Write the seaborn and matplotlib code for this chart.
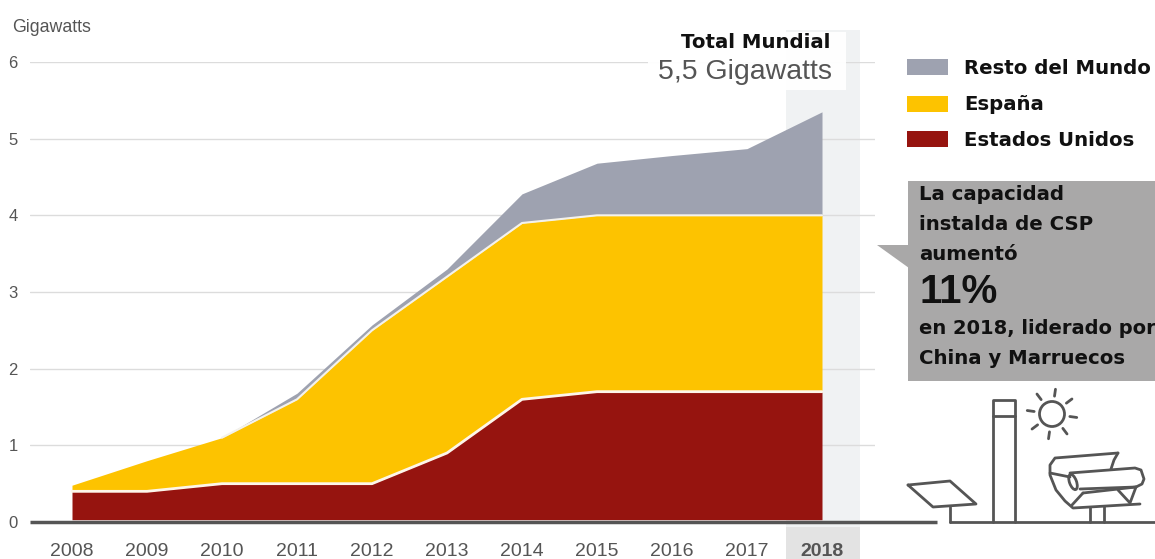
import matplotlib
matplotlib.use("Agg")
import matplotlib.pyplot as plt
import numpy as np
import pandas as pd
import seaborn as sns
from matplotlib.patches import Rectangle, Polygon, Circle, Ellipse

years = [2008, 2009, 2010, 2011, 2012, 2013, 2014, 2015, 2016, 2017, 2018]
estados_unidos = [0.40, 0.40, 0.50, 0.50, 0.50, 0.90, 1.60, 1.70, 1.70, 1.70, 1.70]
espana = [0.08, 0.40, 0.60, 1.10, 2.00, 2.30, 2.30, 2.30, 2.30, 2.30, 2.30]
resto = [0.00, 0.00, 0.00, 0.08, 0.07, 0.10, 0.38, 0.68, 0.78, 0.87, 1.35]
series_names = ["Resto del Mundo", "España", "Estados Unidos"]
series_colors = ["#9ea2b0", "#fdc300", "#96140f"]
y_ticks = [0, 1, 2, 3, 4, 5, 6]

W, H = 1155, 559
sns.set_theme(style="white")
plt.rcParams["font.family"] = ["Liberation Sans", "DejaVu Sans"]
BOLD = ["DejaVu Sans"]
BOLD_SIZE = 14.2

fig = plt.figure(figsize=(W / 100, H / 100), dpi=100)
fig.patch.set_facecolor("white")

bg = fig.add_axes([0, 0, 1, 1], zorder=0)
bg.set_xlim(0, W); bg.set_ylim(H, 0); bg.axis("off")
bg.add_patch(Rectangle((786, 30), 74, 497, fc="#f0f2f3", ec="none"))
bg.add_patch(Rectangle((786, 527), 74, 32, fc="#e3e3e3", ec="none"))

left, right, y0, y6 = 30, 875, 522, 62
ax = fig.add_axes([left / W, 1 - y0 / H, (right - left) / W, (y0 - y6) / H], zorder=1)
ax.patch.set_alpha(0)
ax.set_xlim(2008 + (left - 72) / 75, 2008 + (right - 72) / 75)
ax.set_ylim(0, 6)

df = pd.DataFrame({"year": years, "us": estados_unidos, "es": espana, "rest": resto})
df["top_us"] = df["us"]
df["top_es"] = df["us"] + df["es"]
df["top_rest"] = df["top_es"] + df["rest"]

ax.fill_between(df["year"], df["top_es"], df["top_rest"], color=series_colors[0], lw=0, zorder=2)
ax.fill_between(df["year"], df["top_us"], df["top_es"], color=series_colors[1], lw=0, zorder=2)
ax.fill_between(df["year"], 0.03, df["top_us"], color=series_colors[2], lw=0, zorder=2)
sns.lineplot(data=df, x="year", y="top_us", color="#fdf6ea", lw=2, ax=ax, zorder=3)
sns.lineplot(data=df[df["year"] >= 2010], x="year", y="top_es", color="#f4f2ec", lw=1.5, ax=ax, zorder=3)
ax.set_xlabel(""); ax.set_ylabel("")

ax.set_yticks(y_ticks)
ax.set_yticklabels([str(t) for t in y_ticks], color="#555555", fontsize=12)
ax.set_xticks(years)
ax.set_xticklabels(years, color="#555555", fontsize=14)
ax.get_xticklabels()[-1].set_fontweight("bold")
ax.tick_params(axis="y", length=0, pad=9)
ax.tick_params(axis="x", length=0, pad=15)
ax.yaxis.grid(True, color="#dcdcdc", lw=1)
ax.xaxis.grid(False)
ax.set_axisbelow(True)
for s in ax.spines.values():
    s.set_visible(False)

ov = fig.add_axes([0, 0, 1, 1], zorder=2)
ov.set_xlim(0, W); ov.set_ylim(H, 0); ov.axis("off"); ov.patch.set_alpha(0)

ov.text(12, 28, "Gigawatts", fontsize=12.8, color="#555555", va="center", ha="left")
ov.add_patch(Rectangle((648, 32), 198, 58, fc="white", ec="none", alpha=0.95))
ov.text(756, 42, "Total Mundial", fontsize=BOLD_SIZE, fontweight="bold", family=BOLD, color="#111111", ha="center", va="center")
ov.text(745, 72, "5,5 Gigawatts", fontsize=20.5, color="#555555", ha="center", va="center")

for name, col, yy in zip(series_names, series_colors, [67, 104, 139]):
    ov.add_patch(Rectangle((907, yy - 8), 41, 16, fc=col, ec="none"))
    ov.text(964, yy + 1, name, fontsize=BOLD_SIZE, fontweight="bold", family=BOLD, color="#111111", va="center", ha="left")

callout = "#a9a8a8"
ov.add_patch(Rectangle((908, 181), 247, 200, fc=callout, ec="none"))
ov.add_patch(Polygon([(877, 245), (909, 245), (909, 268)], fc=callout, ec="none"))
for txt, yy in [("La capacidad", 194), ("instalda de CSP", 224), ("aumentó", 254),
                ("en 2018, liderado por", 329), ("China y Marruecos", 358)]:
    ov.text(919, yy, txt, fontsize=14 if "liderado" in txt else BOLD_SIZE, fontweight="bold", family=BOLD,
            color="#111111", va="center", ha="left")
ov.text(919, 292, "11%", fontsize=29, fontweight="bold", color="#111111", va="center", ha="left")

line = dict(color="#555555", lw=2, solid_capstyle="round", solid_joinstyle="round")
ov.plot([30, 937], [522, 522], color="#555555", lw=2.5, solid_capstyle="butt")
ov.plot([950, 1155], [522, 522], **line)
ov.plot([950, 950], [507, 522], **line)
ov.plot([908, 950, 976, 933, 908], [485, 481, 504, 507, 485], **line)
ov.plot([993, 993, 1015, 1015], [522, 400, 400, 522], **line)
ov.plot([993, 1015], [416, 416], **line)
ov.add_patch(Circle((1052, 414), 12.5, fc="none", ec="#555555", lw=2))
for a in np.deg2rad(np.arange(8, 360, 45)):
    ov.plot([1052 + 18 * np.cos(a), 1052 + 25 * np.cos(a)],
            [414 + 18 * np.sin(a), 414 + 25 * np.sin(a)], **line)
ov.plot([1118, 1055, 1050, 1050, 1056, 1065, 1073, 1140], [453, 458, 465, 475, 490, 501, 508, 504], **line)
ov.plot([1118, 1114, 1111], [453, 460, 469], **line)
ov.plot([1070, 1135, 1141, 1144, 1142, 1136, 1080], [473, 468, 470, 479, 484, 487, 489], **line)
ov.plot([1050, 1070], [473, 477], **line)
ov.add_patch(Ellipse((1073, 482), 7, 16, angle=-20, fc="none", ec="#555555", lw=2))
ov.plot([1072, 1083], [505, 493], **line)
ov.plot([1083, 1136], [493, 487], **line)
ov.plot([1118, 1130, 1136], [490, 503, 487], **line)
ov.plot([1090, 1090], [507, 522], **line)
ov.plot([1104, 1104], [506, 522], **line)

fig.savefig("out.png", dpi=100)
